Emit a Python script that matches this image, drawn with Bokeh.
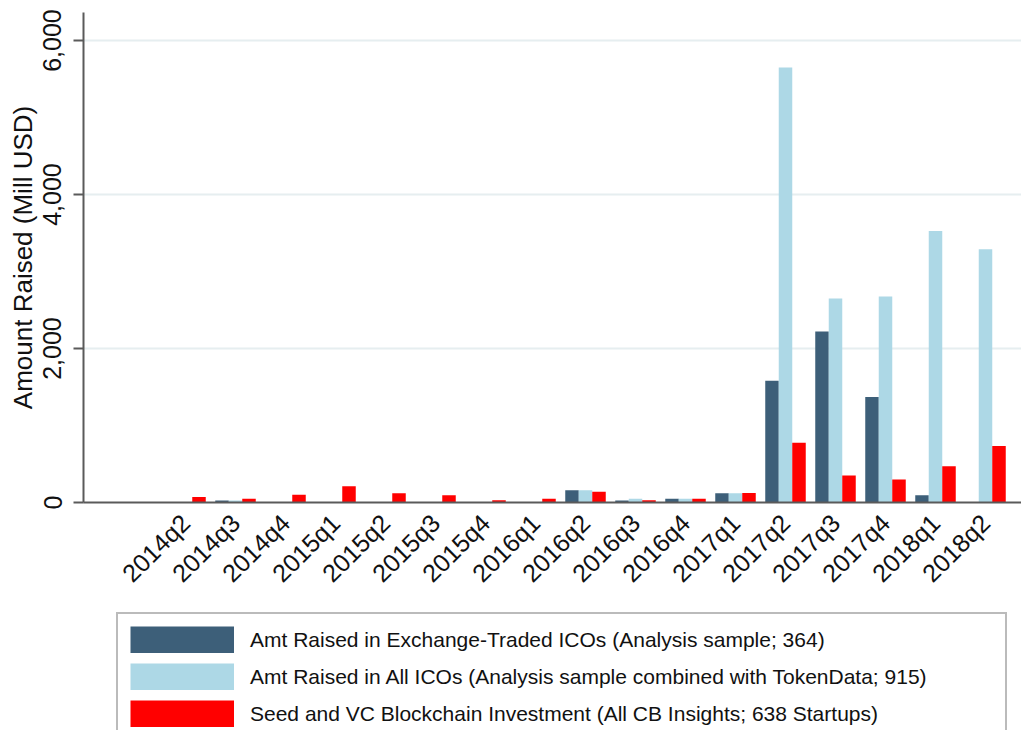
import math
from bokeh.plotting import figure
from bokeh.layouts import column
from bokeh.models import (ColumnDataSource, Range1d, FixedTicker, NumeralTickFormatter,
                          Legend, LegendItem)
from bokeh.transform import dodge
from bokeh.embed import file_html
from bokeh.resources import INLINE

# ---------------- data ----------------
quarters = ["2014q2", "2014q3", "2014q4", "2015q1", "2015q2", "2015q3", "2015q4",
            "2016q1", "2016q2", "2016q3", "2016q4", "2017q1", "2017q2", "2017q3",
            "2017q4", "2018q1", "2018q2"]
exchange_icos = [0, 25, 0, 0, 0, 0, 0, 0, 160, 25, 50, 120, 1580, 2220, 1370, 95, 0]
all_icos = [0, 25, 0, 0, 0, 0, 0, 0, 160, 50, 50, 120, 5650, 2650, 2675, 3525, 3290]
seed_vc = [70, 50, 100, 210, 120, 95, 30, 50, 140, 30, 50, 125, 775, 350, 300, 470, 735]
series_labels = [
    "Amt Raised in Exchange-Traded ICOs (Analysis sample; 364)",
    "Amt Raised in All ICOs (Analysis sample combined with TokenData; 915)",
    "Seed and VC Blockchain Investment (All CB Insights; 638 Startups)",
]
y_ticks = [0, 2000, 4000, 6000]
colors = ["#3d5f79", "#add8e6", "#ff0000"]

FONT = "Liberation Sans"

idx = list(range(len(quarters)))
source = ColumnDataSource(dict(idx=idx, quarter=quarters, exchange=exchange_icos,
                               allicos=all_icos, vc=seed_vc))

# ---------------- main chart ----------------
p = figure(width=1021, height=602, output_backend="svg", toolbar_location=None,
           x_range=Range1d(-2.04, 16.72), y_range=Range1d(0, 6364),
           min_border_left=83, min_border_right=0, min_border_top=12,
           min_border_bottom=100)
p.outline_line_color = None
p.background_fill_color = "white"

bw = 0.27
r1 = p.vbar(x=dodge("idx", -bw, range=p.x_range), top="exchange", width=bw,
            source=source, fill_color=colors[0], line_color=None)
r2 = p.vbar(x=dodge("idx", 0.0, range=p.x_range), top="allicos", width=bw,
            source=source, fill_color=colors[1], line_color=None)
r3 = p.vbar(x=dodge("idx", bw, range=p.x_range), top="vc", width=bw,
            source=source, fill_color=colors[2], line_color=None)

p.xgrid.visible = False
p.ygrid.ticker = FixedTicker(ticks=y_ticks)
p.ygrid.grid_line_color = "#e6eef0"
p.ygrid.grid_line_width = 2

xa = p.xaxis[0]
xa.ticker = FixedTicker(ticks=idx)
xa.major_label_overrides = {i: q for i, q in zip(idx, quarters)}
xa.major_label_orientation = math.pi / 4
xa.major_tick_line_color = None
xa.minor_tick_line_color = None
xa.major_label_text_font = FONT
xa.major_label_text_font_size = "25px"
xa.major_label_text_color = "#111111"
xa.major_label_standoff = 10
xa.axis_line_color = "#5a5a5a"
xa.axis_line_width = 2

ya = p.yaxis[0]
ya.ticker = FixedTicker(ticks=y_ticks)
ya.formatter = NumeralTickFormatter(format="0,0")
ya.major_label_orientation = "vertical"
ya.major_tick_out = 10
ya.major_tick_in = 0
ya.major_tick_line_color = "#5a5a5a"
ya.major_tick_line_width = 2
ya.minor_tick_line_color = None
ya.major_label_text_font = FONT
ya.major_label_text_font_size = "25px"
ya.major_label_text_color = "#111111"
ya.major_label_standoff = 12
ya.axis_line_color = "#5a5a5a"
ya.axis_line_width = 2
ya.axis_label = "Amount Raised (Mill USD)"
ya.axis_label_text_font = FONT
ya.axis_label_text_font_size = "26px"
ya.axis_label_text_font_style = "normal"
ya.axis_label_text_color = "#111111"
ya.axis_label_standoff = 3

# ---------------- legend panel below ----------------
p2 = figure(width=1021, height=128, output_backend="svg", toolbar_location=None,
            x_axis_type=None, y_axis_type=None, x_range=Range1d(0, 1),
            y_range=Range1d(0, 1), min_border=0)
p2.outline_line_color = None
p2.xgrid.visible = False
p2.ygrid.visible = False
nan = float("nan")
keys = [p2.line(x=[nan], y=[nan], line_width=27, line_color=c, line_cap="butt")
        for c in colors]

legend = Legend(items=[LegendItem(label=lab, renderers=[k])
                       for lab, k in zip(series_labels, keys)],
                location=(33, -11))
legend.glyph_width = 104
legend.glyph_height = 27
legend.padding = 12
legend.spacing = 10
legend.margin = 0
legend.label_standoff = 16
legend.label_width = 743
legend.label_height = 27
legend.label_text_font = FONT
legend.label_text_font_size = "21px"
legend.label_text_color = "#111111"
legend.border_line_color = "#777777"
legend.border_line_width = 2
legend.background_fill_color = "white"
legend.background_fill_alpha = 1.0
p2.add_layout(legend)

layout = column(p, p2, spacing=0)
open("out.html", "w").write(file_html(layout, INLINE))
